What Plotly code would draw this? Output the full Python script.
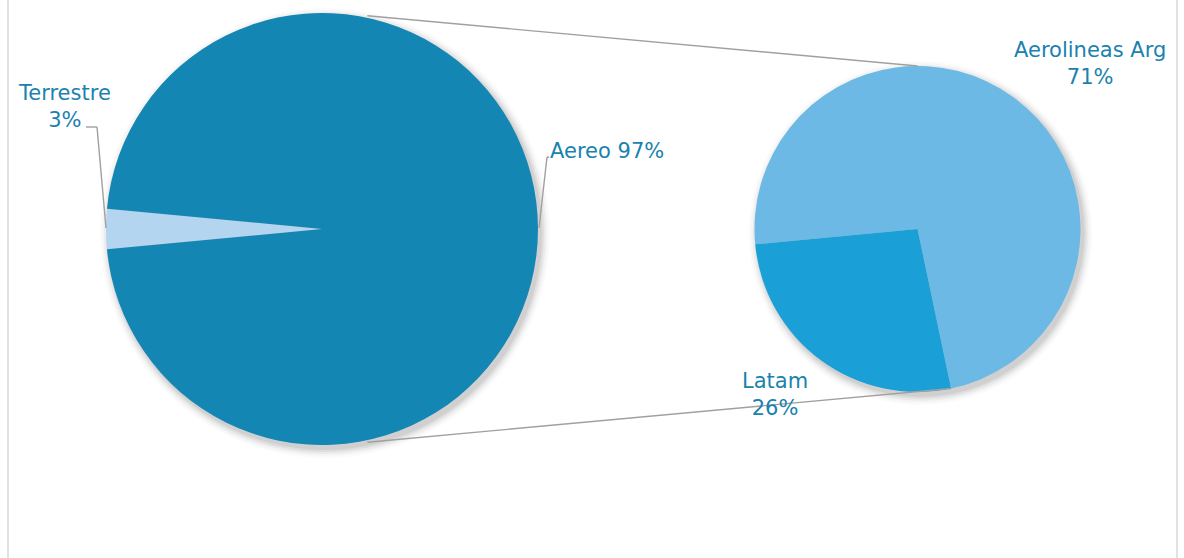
import math
import plotly.graph_objects as go

W, H = 1184, 558

# ---- data ----
main_labels = ["Terrestre", "Aereo"]
main_values = [3, 97]
main_colors = ["#b3d5ef", "#1386b4"]

sub_labels = ["Aerolineas Arg", "Latam"]
sub_values = [71, 26]
sub_colors = ["#6cb9e6", "#1aa0d6"]

TEXT_COLOR = "#1a82ae"
LINE_COLOR = "#a0a0a0"
FONT = "DejaVu Sans"
FSIZE = 21

# ---- geometry (pixels) ----
L_cx, L_cy, L_r = 322, 229, 216
R_cx, R_cy, R_r = 917.5, 229, 163


def px(x):
    return x / W


def py(y):
    return 1 - y / H


def dom(cx, cy, r):
    return dict(x=[px(cx - r), px(cx + r)], y=[py(cy + r), py(cy - r)])


def wrap(a):
    return (a + 180) % 360 - 180


total = sum(main_values)
terr_frac = main_values[0] / total
rot_main = wrap(270 - terr_frac * 180)
rot_sub = wrap(270 - terr_frac * 180)

fig = go.Figure()
fig.add_trace(go.Pie(
    labels=main_labels, values=main_values, sort=False,
    direction="counterclockwise", rotation=rot_main,
    marker=dict(colors=main_colors, line=dict(width=0)),
    textinfo="none", hoverinfo="label+percent",
    domain=dom(L_cx, L_cy, L_r), showlegend=False,
))
fig.add_trace(go.Pie(
    labels=sub_labels, values=sub_values, sort=False,
    direction="clockwise", rotation=rot_sub,
    marker=dict(colors=sub_colors, line=dict(width=0)),
    textinfo="none", hoverinfo="label+value",
    domain=dom(R_cx, R_cy, R_r), showlegend=False,
))


def pt(cx, cy, r, ang):
    a = math.radians(ang)
    return cx + r * math.sin(a), cy - r * math.cos(a)


shapes = []
# soft shadows
for cx, cy, r in [(L_cx, L_cy, L_r), (R_cx, R_cy, R_r)]:
    for k, op in [(1, 0.06), (3, 0.05), (5, 0.04), (7, 0.025), (9, 0.015)]:
        shapes.append(dict(type="circle", xref="paper", yref="paper",
                           x0=px(cx - r - k + 3), x1=px(cx + r + k + 3),
                           y0=py(cy + r + k + 4), y1=py(cy - r - k + 4),
                           fillcolor="rgba(0,0,0,%.3f)" % op, line=dict(width=0),
                           layer="below"))


def seg(x0, y0, x1, y1, w=1.4):
    shapes.append(dict(type="line", xref="paper", yref="paper",
                       x0=px(x0), y0=py(y0), x1=px(x1), y1=py(y1),
                       line=dict(color=LINE_COLOR, width=w)))


# connector lines between pies
a0 = pt(L_cx, L_cy, L_r + 2, 12)
b0 = pt(R_cx, R_cy, R_r, 0)
seg(*a0, *b0)
boundary = 360 * sub_values[0] / sum(sub_values) + rot_sub
a1 = pt(L_cx, L_cy, L_r + 2, 168)
b1 = pt(R_cx, R_cy, R_r, boundary % 360)
seg(*a1, *b1)

# leader lines
seg(86, 127, 97, 127)
seg(97, 127, 106, 228)
seg(539, 228, 547, 157)
seg(547, 157, 549, 157)

# frame lines
for x in [8, 1177]:
    shapes.append(dict(type="line", xref="paper", yref="paper",
                       x0=px(x), x1=px(x), y0=0, y1=1,
                       line=dict(color="#d9d9d9", width=1.5)))

annos = []


def label(text, x, y, xanchor="center"):
    annos.append(dict(text=text, x=px(x), y=py(y), xref="paper", yref="paper",
                      xanchor=xanchor, yanchor="middle", showarrow=False,
                      align="center", borderpad=0,
                      font=dict(family=FONT, size=FSIZE, color=TEXT_COLOR)))


label(f"{main_labels[0]}<br>{main_values[0]}%", 64, 106)
label(f"{main_labels[1]} {main_values[1]}%", 549, 151, xanchor="left")
label(f"{sub_labels[0]}<br>{sub_values[0]}%", 1090, 64)
label(f"{sub_labels[1]}<br>{sub_values[1]}%", 775, 394)

fig.update_layout(
    width=W, height=H, margin=dict(l=0, r=0, t=0, b=0),
    paper_bgcolor="white", plot_bgcolor="white",
    shapes=shapes, annotations=annos,
)

fig.write_html("out.html")
